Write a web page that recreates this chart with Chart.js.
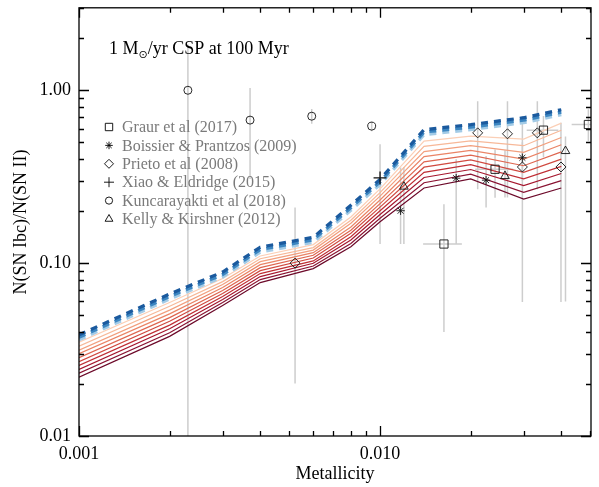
<!DOCTYPE html>
<html>
<head>
<meta charset="utf-8">
<script src="https://cdn.jsdelivr.net/npm/chart.js@4.4.1/dist/chart.umd.min.js"></script>
<style>
  html, body { margin: 0; padding: 0; background: #fff; }
  #wrap { width: 599px; height: 487px; }
</style>
</head>
<body>
<div id="wrap"><canvas id="snChart" width="599" height="487"></canvas></div>
<script>
// model grid (BPASS metallicities)
const metallicity = [0.001, 0.002, 0.003, 0.004, 0.006, 0.008, 0.010, 0.014, 0.020, 0.030, 0.040];

// model curves, darkest red (lowest) first
const model0 = [0.0219, 0.0377, 0.0569, 0.0772, 0.0930, 0.1245, 0.1734, 0.272, 0.307, 0.235, 0.272];
const model1 = [0.0231, 0.0396, 0.0592, 0.0803, 0.0963, 0.130, 0.182, 0.292, 0.327, 0.257, 0.300];
const model2 = [0.0243, 0.0417, 0.0616, 0.0836, 0.0998, 0.136, 0.191, 0.313, 0.348, 0.281, 0.330];
const model3 = [0.0256, 0.0438, 0.0641, 0.0870, 0.103, 0.142, 0.201, 0.335, 0.371, 0.307, 0.363];
const model4 = [0.0269, 0.0461, 0.0667, 0.0905, 0.107, 0.149, 0.211, 0.359, 0.396, 0.335, 0.400];
const model5 = [0.0284, 0.0484, 0.0694, 0.0942, 0.111, 0.155, 0.221, 0.385, 0.421, 0.366, 0.440];
const model6 = [0.0299, 0.0509, 0.0723, 0.0980, 0.115, 0.162, 0.232, 0.413, 0.449, 0.400, 0.484];
const model7 = [0.0314, 0.0535, 0.0752, 0.102, 0.119, 0.170, 0.244, 0.442, 0.479, 0.437, 0.533];
const model8 = [0.0331, 0.0563, 0.0782, 0.106, 0.123, 0.177, 0.256, 0.474, 0.510, 0.478, 0.587];
const model9 = [0.0349, 0.0592, 0.0814, 0.110, 0.128, 0.185, 0.269, 0.508, 0.543, 0.522, 0.646];
const redModels = [model0, model1, model2, model3, model4, model5, model6, model7, model8, model9];
const redColors = ['#6d0a2a', '#8a1332', '#a6182f', '#bf2f35', '#d04a40', '#de6650', '#ea8466', '#f29f7e', '#f7b898', '#fbcfb6'];

// blue dashed band (top to bottom)
const blueTop = [0.0385, 0.0663, 0.0888, 0.1237, 0.1410, 0.216, 0.305, 0.592, 0.633, 0.694, 0.772];
const blueMid = [0.0372, 0.0641, 0.0859, 0.1197, 0.1364, 0.209, 0.295, 0.573, 0.612, 0.671, 0.747];
const blueBot = [0.0360, 0.0620, 0.0831, 0.1158, 0.1320, 0.202, 0.285, 0.554, 0.592, 0.649, 0.723];
const blueColors = ['#1b5a9e', '#3c86c1', '#a3cbe6'];

// observations
const graurZ = [0.0163, 0.0241, 0.0349, 0.0492];
const graurRatio = [0.129, 0.349, 0.588, 0.634];
const graurLo = [0.040, 0.239, 0.41, 0.508];
const graurHi = [0.219, 0.455, 0.71, 0.777];
const graurZLo = [0.0139, 0.0207, 0.0307, 0.0433];
const graurZHi = [0.0187, 0.0277, 0.0391, 0.06];

const boissierZ = [0.0117, 0.0179, 0.0225, 0.0297];
const boissierRatio = [0.201, 0.310, 0.302, 0.407];
const boissierLo = [0.129, 0.129, 0.210, 0.30];
const boissierHi = [0.357, 0.399, 0.417, 0.50];

const prietoZ = [0.00522, 0.0211, 0.0265, 0.0333, 0.0297, 0.0399];
const prietoRatio = [0.100, 0.567, 0.560, 0.567, 0.360, 0.360];
const prietoLo = [0.0201, 0.268, 0.240, 0.268, 0.0595, 0.0595];
const prietoHi = [0.210, 0.864, 0.864, 0.864, 0.678, 0.648];

const xiaoZ = [0.0100];
const xiaoRatio = [0.311];
const xiaoLo = [0.129];
const xiaoHi = [0.487];

const kuncZ = [0.0023, 0.0037, 0.00593, 0.00938];
const kuncRatio = [1.00, 0.672, 0.708, 0.620];
const kuncLo = [0.005, 0.307, 0.64, 0.58];
const kuncHi = [1.84, 1.03, 0.78, 0.66];

const kellyZ = [0.0120, 0.0260, 0.0413];
const kellyRatio = [0.277, 0.319, 0.445];
const kellyLo = [0.129, 0.24, 0.06];
const kellyHi = [0.36, 0.45, 0.54];

const legendNames = ['Graur et al (2017)', 'Boissier & Prantzos (2009)', 'Prieto et al (2008)',
  'Xiao & Eldridge (2015)', 'Kuncarayakti et al (2018)', 'Kelly & Kirshner (2012)'];

const yTickValues = [0.01, 0.1, 1];
const yTickLabels = ['0.01', '0.10', '1.00'];
const xTickValues = [0.001, 0.01];
const xTickLabels = ['0.001', '0.010'];

const serif = "'Liberation Serif', 'DejaVu Serif', serif";

function pts(xs, ys) {
  return xs.map((x, i) => ({ x: x, y: ys[i] }));
}

const observations = [
  { label: legendNames[0], z: graurZ, r: graurRatio, lo: graurLo, hi: graurHi, zlo: graurZLo, zhi: graurZHi, style: 'rect', radius: 5.8 },
  { label: legendNames[1], z: boissierZ, r: boissierRatio, lo: boissierLo, hi: boissierHi, style: 'star', radius: 4.2 },
  { label: legendNames[2], z: prietoZ, r: prietoRatio, lo: prietoLo, hi: prietoHi, style: 'rectRot', radius: 5 },
  { label: legendNames[3], z: xiaoZ, r: xiaoRatio, lo: xiaoLo, hi: xiaoHi, style: 'cross', radius: 6.5 },
  { label: legendNames[4], z: kuncZ, r: kuncRatio, lo: kuncLo, hi: kuncHi, style: 'circle', radius: 4 },
  { label: legendNames[5], z: kellyZ, r: kellyRatio, lo: kellyLo, hi: kellyHi, style: 'triangle', radius: 5 }
];

const datasets = [];
observations.forEach(o => {
  datasets.push({
    label: o.label,
    data: pts(o.z, o.r),
    showLine: false,
    pointStyle: o.style,
    pointRadius: o.radius,
    pointBorderColor: '#111',
    pointBackgroundColor: 'rgba(0,0,0,0)',
    pointBorderWidth: o.style === 'cross' ? 1.3 : 0.9
  });
});
[blueTop, blueMid, blueBot].forEach((arr, i) => {
  datasets.push({
    label: 'blue' + i,
    data: pts(metallicity, arr),
    showLine: true,
    borderColor: blueColors[i],
    borderWidth: 3.2,
    borderDash: [7, 6],
    borderCapStyle: 'butt',
    pointRadius: 0,
    tension: 0
  });
});
redModels.slice().reverse().forEach((arr, k) => {
  const i = redModels.length - 1 - k;
  datasets.push({
    label: 'model' + i,
    data: pts(metallicity, arr),
    showLine: true,
    borderColor: redColors[i],
    borderWidth: 1.2,
    pointRadius: 0,
    tension: 0
  });
});

// grey error bars under the symbols
const errorBars = {
  id: 'errorBars',
  beforeDatasetsDraw(chart) {
    const ctx = chart.ctx, xs = chart.scales.x, ys = chart.scales.y, a = chart.chartArea;
    ctx.save();
    ctx.beginPath();
    ctx.rect(a.left, a.top, a.right - a.left, a.bottom - a.top);
    ctx.clip();
    ctx.strokeStyle = '#cdcdcd';
    ctx.lineWidth = 1.5;
    observations.forEach(o => {
      o.z.forEach((z, i) => {
        const px = xs.getPixelForValue(z);
        const py = ys.getPixelForValue(o.r[i]);
        ctx.beginPath();
        ctx.moveTo(px, ys.getPixelForValue(o.lo[i]));
        ctx.lineTo(px, ys.getPixelForValue(o.hi[i]));
        if (o.zlo) {
          ctx.moveTo(xs.getPixelForValue(o.zlo[i]), py);
          ctx.lineTo(xs.getPixelForValue(o.zhi[i]), py);
        }
        ctx.stroke();
      });
    });
    ctx.restore();
  }
};

// frame, inward ticks, titles and the legend box
const decorations = {
  id: 'decorations',
  afterDraw(chart) {
    const ctx = chart.ctx, xs = chart.scales.x, ys = chart.scales.y, a = chart.chartArea;
    ctx.save();
    ctx.strokeStyle = '#000';
    ctx.lineWidth = 1.3;
    ctx.strokeRect(a.left, a.top, a.right - a.left, a.bottom - a.top);
    ctx.beginPath();
    for (let e = -4; e <= 1; e++) {
      for (let m = 1; m <= 9; m++) {
        const v = m * Math.pow(10, e);
        const len = m === 1 ? 10 : 5;
        if (v >= xs.min * 0.999 && v <= xs.max) {
          const px = Math.round(xs.getPixelForValue(v)) + 0.5;
          ctx.moveTo(px, a.bottom); ctx.lineTo(px, a.bottom - len);
          ctx.moveTo(px, a.top); ctx.lineTo(px, a.top + len);
        }
        if (v >= ys.min * 0.999 && v <= ys.max) {
          const py = Math.round(ys.getPixelForValue(v)) + 0.5;
          ctx.moveTo(a.left, py); ctx.lineTo(a.left + len, py);
          ctx.moveTo(a.right, py); ctx.lineTo(a.right - len, py);
        }
      }
    }
    ctx.stroke();

    // axis titles
    ctx.fillStyle = '#000';
    ctx.font = '18px ' + serif;
    ctx.textAlign = 'center';
    ctx.textBaseline = 'middle';
    ctx.fillText('Metallicity', (a.left + a.right) / 2, 474);
    ctx.save();
    ctx.translate(21, (a.top + a.bottom) / 2);
    ctx.rotate(-Math.PI / 2);
    ctx.fillText('N(SN Ibc)/N(SN II)', 0, 0);
    ctx.restore();

    // annotation
    ctx.textAlign = 'left';
    ctx.textBaseline = 'alphabetic';
    let tx = 109;
    const base = 54;
    ctx.font = '18px ' + serif;
    ctx.fillText('1 M', tx, base);
    tx += ctx.measureText('1 M').width;
    ctx.font = '11px ' + 'DejaVu Sans';
    ctx.fillText('\u2299', tx, base + 4);
    tx += ctx.measureText('\u2299').width;
    ctx.font = '18px ' + serif;
    ctx.fillText('/yr CSP at 100 Myr', tx, base);

    // legend
    const drawPoint = Chart.helpers && Chart.helpers.drawPoint;
    ctx.font = '16px ' + serif;
    ctx.textBaseline = 'middle';
    observations.forEach((o, i) => {
      const ly = 127 + i * 18.4;
      ctx.strokeStyle = '#000';
      ctx.fillStyle = 'rgba(0,0,0,0)';
      ctx.lineWidth = 0.9;
      if (drawPoint) {
        drawPoint(ctx, { pointStyle: o.style, radius: o.style === 'cross' ? 5 : o.radius * 0.9, borderWidth: 0.9, rotation: 0 }, 109, ly);
      }
      ctx.fillStyle = '#7a7a7a';
      ctx.fillText(o.label, 122, ly + 1);
    });
    ctx.restore();
  }
};

new Chart(document.getElementById('snChart'), {
  type: 'scatter',
  data: { datasets: datasets },
  options: {
    responsive: false,
    animation: false,
    devicePixelRatio: 1,
    layout: { padding: { left: 0, right: 8, top: 6, bottom: 0 } },
    plugins: { legend: { display: false }, tooltip: { enabled: false } },
    scales: {
      x: {
        type: 'logarithmic',
        min: 0.001,
        max: 0.0502,
        grid: { display: false, drawTicks: false },
        border: { display: false },
        afterBuildTicks: s => { s.ticks = xTickValues.map(v => ({ value: v })); },
        afterFit: s => { s.height = 51; s.paddingLeft = 0; s.paddingRight = 0; },
        ticks: {
          autoSkip: false,
          maxRotation: 0,
          padding: 7,
          color: '#000',
          font: { family: serif, size: 18 },
          callback: v => xTickLabels[xTickValues.indexOf(v)]
        }
      },
      y: {
        type: 'logarithmic',
        min: 0.01,
        max: 3.0,
        grid: { display: false, drawTicks: false },
        border: { display: false },
        afterBuildTicks: s => { s.ticks = yTickValues.map(v => ({ value: v })); },
        afterFit: s => { s.width = 79; s.paddingTop = 0; s.paddingBottom = 0; },
        ticks: {
          autoSkip: false,
          padding: 8,
          color: '#000',
          font: { family: serif, size: 18 },
          callback: v => yTickLabels[yTickValues.indexOf(v)]
        }
      }
    }
  },
  plugins: [errorBars, decorations]
});
</script>
</body>
</html>
